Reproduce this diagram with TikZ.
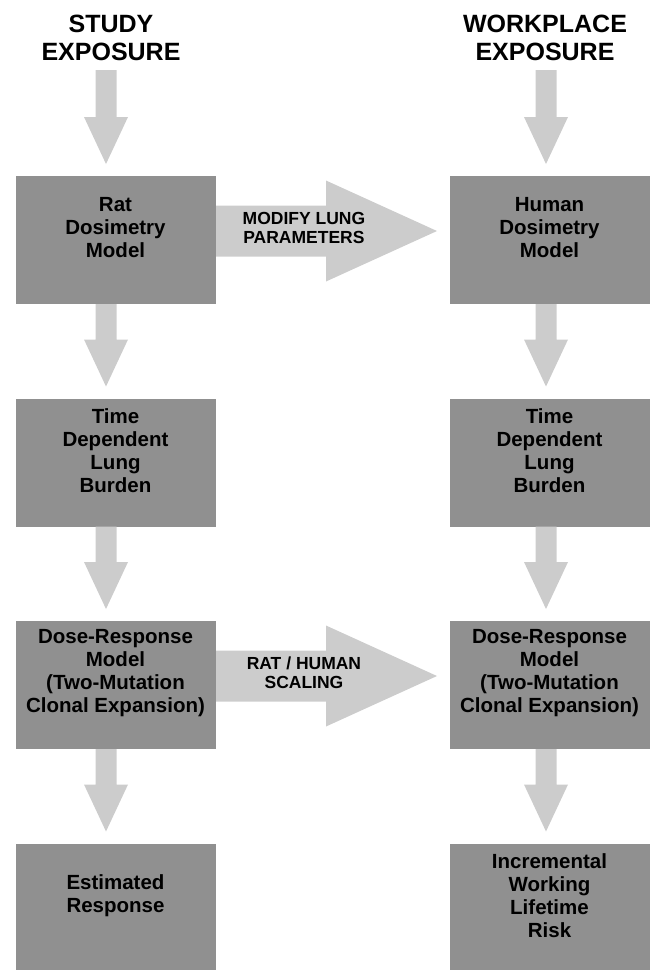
\documentclass[tikz,border=0pt]{standalone}
\usepackage{fontspec}
\setsansfont{Liberation Sans}
\usepackage{tikz}
\usetikzlibrary{positioning,calc}
\definecolor{boxgray}{HTML}{909090}
\definecolor{arrowgray}{HTML}{CCCCCC}

\begin{document}
\begin{tikzpicture}[
  x=1pt, y=1pt,
  font=\sffamily\bfseries,
  model box/.style={fill=boxgray, minimum width=200pt, minimum height=128pt, inner sep=0pt, outer sep=0pt},
  box text/.style={align=center, inner sep=0pt, font=\sffamily\bfseries\fontsize{20.5}{23}\selectfont},
  header/.style={align=center, inner sep=0pt, font=\sffamily\bfseries\fontsize{25}{28}\selectfont},
  arrow text/.style={align=center, inner sep=0pt, font=\sffamily\bfseries\fontsize{17.5}{19}\selectfont},
  down fat/.style={fill=arrowgray, to path={let \p1=(\tikztostart), \p2=(\tikztotarget) in
    (\x1-10.5pt,\y1) -- (\x1-10.5pt,\y2+47pt) -- (\x1-22pt,\y2+47pt) -- (\x1,\y2)
    -- (\x1+22pt,\y2+47pt) -- (\x1+10.5pt,\y2+47pt) -- (\x1+10.5pt,\y1) -- cycle}},
  right fat/.style={fill=arrowgray, to path={let \p1=(\tikztostart), \p2=(\tikztotarget) in
    (\x1,\y1+25.5pt) -- (\x2-111pt,\y1+25.5pt) -- (\x2-111pt,\y1+50.5pt) -- (\x2,\y1)
    -- (\x2-111pt,\y1-50.5pt) -- (\x2-111pt,\y1-25.5pt) -- (\x1,\y1-25.5pt) -- cycle}}
]
\useasboundingbox (0,0) rectangle (652,-970);
% ---------- headers ----------
\node[header, anchor=north] (studyhdr) at (111,-15) {STUDY\\EXPOSURE};
\node[header, anchor=north] (workhdr) at (545,-15) {WORKPLACE\\EXPOSURE};

% ---------- rat column (left) ----------
\node[model box] (ratdos) at (115.5,-240) {};
\node[model box, below=94.5pt of ratdos] (ratburden) {};
\node[model box, below=94.5pt of ratburden] (ratdose) {};
\node[model box, below=94.5pt of ratdose] (ratresp) {};
\node[box text] (ratdostxt) at ([yshift=12pt]ratdos.center) {Rat\\Dosimetry\\Model};
\node[box text] (ratburdentxt) at ([yshift=12pt]ratburden.center) {Time\\Dependent\\Lung\\Burden};
\node[box text] (ratdosetxt) at ([yshift=12pt]ratdose.center) {Dose-Response\\Model\\(Two-Mutation\\Clonal Expansion)};
\node[box text] (ratresptxt) at ([yshift=12pt]ratresp.center) {Estimated\\Response};

% ---------- human column (right) ----------
\node[model box] (humdos) at (549.5,-240) {};
\node[model box, below=94.5pt of humdos] (humburden) {};
\node[model box, below=94.5pt of humburden] (humdose) {};
\node[model box, below=94.5pt of humdose] (humrisk) {};
\node[box text] (humdostxt) at ([yshift=12pt]humdos.center) {Human\\Dosimetry\\Model};
\node[box text] (humburdentxt) at ([yshift=12pt]humburden.center) {Time\\Dependent\\Lung\\Burden};
\node[box text] (humdosetxt) at ([yshift=12pt]humdose.center) {Dose-Response\\Model\\(Two-Mutation\\Clonal Expansion)};
\node[box text] (humrisktxt) at ([yshift=12pt]humrisk.center) {Incremental\\Working\\Lifetime\\Risk};

% ---------- down arrows ----------
\fill[down fat] ([xshift=-5pt,yshift=-9pt]studyhdr.south) to ([xshift=-9.5pt,yshift=12pt]ratdos.north);
\fill[down fat] ([xshift=-9.5pt]ratdos.south) to ([xshift=-9.5pt,yshift=12pt]ratburden.north);
\fill[down fat] ([xshift=-9.5pt]ratburden.south) to ([xshift=-9.5pt,yshift=12pt]ratdose.north);
\fill[down fat] ([xshift=-9.5pt]ratdose.south) to ([xshift=-9.5pt,yshift=12pt]ratresp.north);
\fill[down fat] ([xshift=1pt,yshift=-9pt]workhdr.south) to ([xshift=-3.5pt,yshift=12pt]humdos.north);
\fill[down fat] ([xshift=-3.5pt]humdos.south) to ([xshift=-3.5pt,yshift=12pt]humburden.north);
\fill[down fat] ([xshift=-3.5pt]humburden.south) to ([xshift=-3.5pt,yshift=12pt]humdose.north);
\fill[down fat] ([xshift=-3.5pt]humdose.south) to ([xshift=-3.5pt,yshift=12pt]humrisk.north);

% ---------- rat to human ----------
\fill[right fat] ([xshift=0.5pt,yshift=9pt]ratdos.east) to ([xshift=-12.5pt,yshift=9pt]humdos.west);
\fill[right fat] ([xshift=0.5pt,yshift=9pt]ratdose.east) to ([xshift=-12.5pt,yshift=9pt]humdose.west);
\node[arrow text] (lunglbl) at ($(ratdos.east)!0.378!(humdos.west)+(0,12.5)$) {MODIFY LUNG\\PARAMETERS};
\node[arrow text] (scalelbl) at ($(ratdose.east)!0.378!(humdose.west)+(0,12.5)$) {RAT / HUMAN\\SCALING};
\end{tikzpicture}
\end{document}
